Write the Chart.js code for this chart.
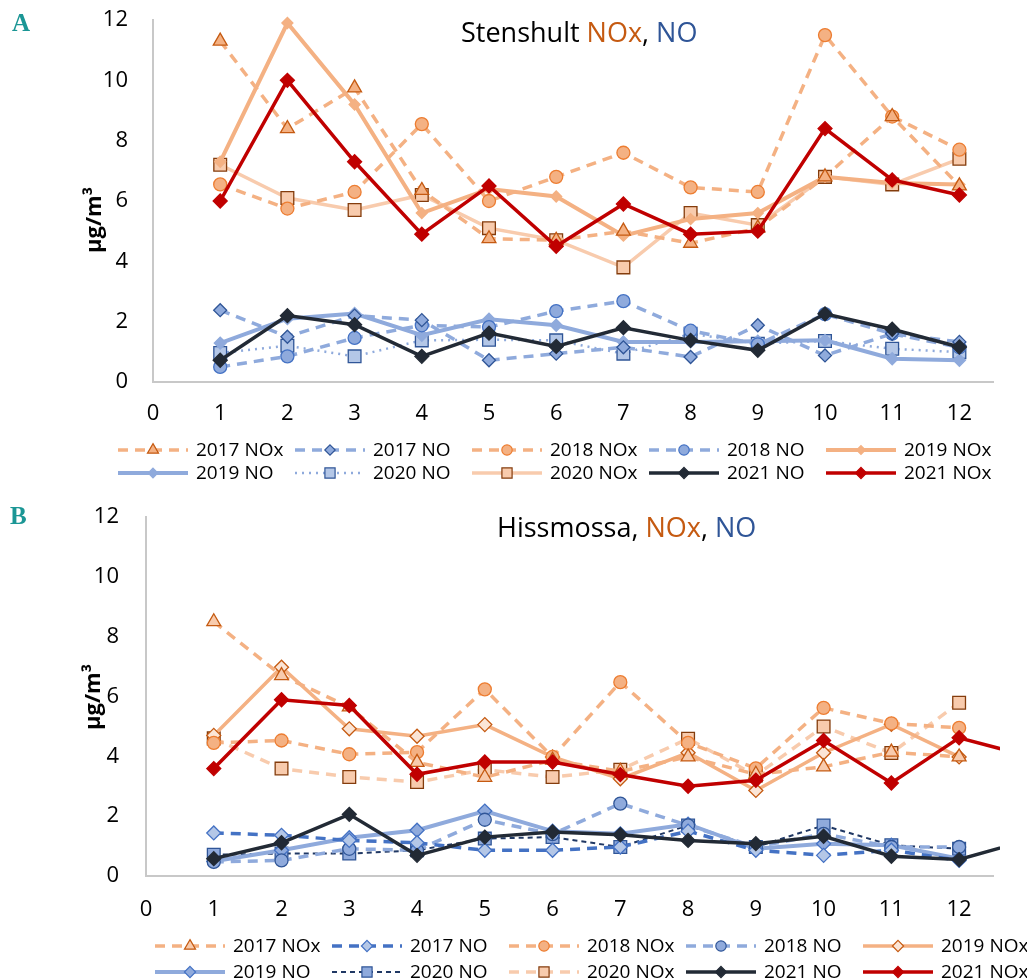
<!DOCTYPE html>
<html>
<head>
<meta charset="utf-8">
<script src="https://cdn.jsdelivr.net/npm/chart.js@4.4.1/dist/chart.umd.min.js"></script>
<style>
  body { margin: 0; background: #fff; font-family: 'Open Sans', sans-serif; }
  #wrap { position: relative; width: 1027px; height: 980px; overflow: hidden; }
  canvas { position: absolute; left: 0; }
  .lbl { position: absolute; font-family: 'Liberation Serif', 'DejaVu Serif', serif; font-weight: bold; font-size: 25px; color: #1b9695; line-height: 1; }
  .ttl { position: absolute; font-size: 27px; color: #000; line-height: 1; transform: translateY(-50%); white-space: nowrap; }
  .ytl { position: absolute; font-size: 22px; font-weight: bold; color: #000; transform: translate(-50%, -50%) rotate(-90deg); white-space: nowrap; }
  .nox { color: #c55a11; }
  .no { color: #2f5597; }
</style>
</head>
<body>
<div id="wrap">
  <canvas id="chartA" width="1027" height="490" style="top:0"></canvas>
  <canvas id="chartB" width="1027" height="490" style="top:490px"></canvas>
  <div class="lbl" style="left:12px; top:10px">A</div>
  <div class="lbl" style="left:10px; top:503px">B</div>
  <div class="ttl" style="left:461px; top:31px">Stenshult <span class="nox">NOx</span>, <span class="no">NO</span></div>
  <div class="ttl" style="left:497px; top:526px">Hissmossa, <span class="nox">NOx</span>, <span class="no">NO</span></div>
  <div class="ytl" style="left:92px; top:220px">µg/m³</div>
  <div class="ytl" style="left:91px; top:697px">µg/m³</div>
</div>
<script>
// months on the x axis
const months = [1, 2, 3, 4, 5, 6, 7, 8, 9, 10, 11, 12];
const monthsB21 = [1, 2, 3, 4, 5, 6, 7, 8, 9, 10, 11, 12, 13]; // 2021 lines in B run past the axis end
const labels = ["2017 NOx", "2017 NO", "2018 NOx", "2018 NO", "2019 NOx", "2019 NO", "2020 NO", "2020 NOx", "2021 NO", "2021 NOx"];

// Stenshult
const stNOx2017 = [11.3, 8.4, 9.75, 6.35, 4.75, 4.7, 5.0, 4.6, 5.1, 6.8, 8.8, 6.5];
const stNO2017  = [2.38, 1.5, 2.2, 2.05, 0.72, 0.94, 1.15, 0.83, 1.88, 0.88, 1.6, 1.33];
const stNOx2018 = [6.55, 5.75, 6.3, 8.55, 6.0, 6.8, 7.6, 6.45, 6.3, 11.5, 8.8, 7.7];
const stNO2018  = [0.5, 0.85, 1.46, 1.88, 1.82, 2.35, 2.68, 1.7, 1.25, 2.25, 1.6, 1.15];
const stNOx2019 = [7.3, 11.9, 9.2, 5.6, 6.4, 6.15, 4.85, 5.4, 5.6, 6.8, 6.6, 6.55];
const stNO2019  = [1.29, 2.1, 2.27, 1.55, 2.08, 1.88, 1.33, 1.33, 1.35, 1.38, 0.77, 0.72];
const stNO2020  = [0.96, 1.2, 0.85, 1.38, 1.4, 1.38, 0.94, 1.6, 1.27, 1.36, 1.1, 0.99];
const stNOx2020 = [7.2, 6.1, 5.7, 6.2, 5.1, 4.7, 3.8, 5.6, 5.2, 6.8, 6.55, 7.4];
const stNO2021  = [0.72, 2.2, 1.9, 0.85, 1.62, 1.18, 1.8, 1.38, 1.05, 2.26, 1.75, 1.16];
const stNOx2021 = [6.0, 10.0, 7.3, 4.9, 6.5, 4.5, 5.9, 4.9, 5.0, 8.4, 6.7, 6.2];

// Hissmossa
const hiNOx2017 = [8.5, 6.7, 5.65, 3.8, 3.3, 3.87, 3.5, 3.98, 3.4, 3.65, 4.14, 3.98];
const hiNO2017  = [1.44, 1.36, 1.19, 1.11, 0.86, 0.86, 0.97, 1.5, 0.86, 0.69, 0.86, 0.52];
const hiNOx2018 = [4.45, 4.53, 4.07, 4.14, 6.24, 3.98, 6.48, 4.45, 3.6, 5.62, 5.1, 4.95];
const hiNO2018  = [0.47, 0.52, 0.91, 0.86, 1.88, 1.4, 2.42, 1.69, 0.97, 1.41, 0.97, 0.97];
const hiNOx2019 = [4.7, 6.98, 4.92, 4.67, 5.06, 3.98, 3.25, 4.12, 2.86, 4.12, 5.07, 3.98];
const hiNO2019  = [0.49, 0.86, 1.28, 1.53, 2.17, 1.5, 1.41, 1.73, 0.91, 1.08, 1.03, 0.58];
const hiNO2020  = [0.71, 0.75, 0.75, 0.86, 1.25, 1.3, 0.97, 1.69, 0.97, 1.69, 1.03, 0.91];
const hiNOx2020 = [4.6, 3.59, 3.31, 3.14, 3.55, 3.31, 3.55, 4.59, 3.36, 5.0, 4.11, 5.79];
const hiNO2021  = [0.58, 1.11, 2.06, 0.69, 1.3, 1.47, 1.38, 1.19, 1.08, 1.33, 0.66, 0.55, 1.19];
const hiNOx2021 = [3.59, 5.89, 5.7, 3.4, 3.81, 3.81, 3.39, 3.0, 3.2, 4.53, 3.11, 4.62, 4.02];

const FONT = "'Open Sans', sans-serif";
const DASH = [10, 7];

function pts(xs, ys) {
  return ys.map((v, i) => ({x: xs[i], y: v}));
}

// one line series; st holds the look
function ds(label, xs, ys, st) {
  return {
    label: label,
    data: pts(xs, ys),
    borderColor: st.line,
    borderWidth: st.w || 3.5,
    borderDash: st.dash || [],
    pointStyle: st.shape,
    pointRadius: st.r || 6.5,
    pointBackgroundColor: st.fill,
    pointBorderColor: st.edge || st.fill,
    pointBorderWidth: 1.3,
    order: st.order == null ? 5 : st.order,
    tension: 0
  };
}

function drawMarker(ctx, shape, x, y, r, fill, edge, lw) {
  ctx.beginPath();
  if (shape === 'circle') {
    ctx.arc(x, y, r, 0, Math.PI * 2);
  } else if (shape === 'rect') {
    const s = r * Math.SQRT1_2;
    ctx.rect(x - s, y - s, 2 * s, 2 * s);
  } else if (shape === 'rectRot') {
    ctx.moveTo(x, y - r); ctx.lineTo(x + r, y); ctx.lineTo(x, y + r); ctx.lineTo(x - r, y);
    ctx.closePath();
  } else if (shape === 'triangle') {
    for (let k = 0; k < 3; k++) {
      const a = k * 2 * Math.PI / 3;
      const px = x + Math.sin(a) * r, py = y - Math.cos(a) * r;
      if (k === 0) ctx.moveTo(px, py); else ctx.lineTo(px, py);
    }
    ctx.closePath();
  }
  ctx.fillStyle = fill; ctx.fill();
  ctx.lineWidth = lw; ctx.strokeStyle = edge; ctx.stroke();
}

// legend laid out as a 5 x 2 grid like the original
const gridLegend = {
  id: 'gridLegend',
  afterDraw(chart, args, opts) {
    const ctx = chart.ctx;
    ctx.save();
    chart.data.datasets.forEach((d, i) => {
      const x = opts.x + (i % 5) * opts.colW;
      const y = opts.rows[Math.floor(i / 5)];
      ctx.strokeStyle = d.borderColor;
      ctx.lineWidth = d.borderWidth;
      ctx.setLineDash(d.borderDash);
      ctx.beginPath(); ctx.moveTo(x, y); ctx.lineTo(x + 70, y); ctx.stroke();
      ctx.setLineDash([]);
      drawMarker(ctx, d.pointStyle, x + 35, y, d.pointRadius * 0.8, d.pointBackgroundColor, d.pointBorderColor, 1.2);
      ctx.fillStyle = '#000';
      ctx.font = '19px ' + FONT;
      ctx.textBaseline = 'middle';
      ctx.fillText(d.label, x + 78, y + 1);
    });
    ctx.restore();
  }
};

function makeOptions(o) {
  return {
    responsive: false,
    animation: false,
    layout: {padding: {top: o.top, right: 34, bottom: o.bottom, left: 0}},
    plugins: {
      legend: {display: false},
      tooltip: {enabled: false},
      gridLegend: o.legend
    },
    scales: {
      x: {
        type: 'linear', min: 0, max: 12.5,
        ticks: {stepSize: 1, includeBounds: false, padding: o.xpad, color: '#000', font: {family: FONT, size: 22}},
        grid: {display: false, drawTicks: false},
        border: {color: '#c8c8c8', width: 2},
        afterFit: s => { s.height = o.xh; }
      },
      y: {
        min: 0, max: 12,
        ticks: {stepSize: 2, padding: o.ypad, color: '#000', font: {family: FONT, size: 22}},
        grid: {display: false, drawTicks: false},
        border: {color: '#c8c8c8', width: 2},
        // fixed width, and keep the tick padding from pushing the plot down
        afterFit: s => { s.width = o.yw; s.paddingTop = 0; s.paddingBottom = 0; }
      }
    }
  };
}

const orL = '#f4b183', orP = '#f8cbad', orD = '#c55a11', orM = '#ed7d31', brn = '#843c0c';
const blL = '#8faadc', blP = '#b4c7e7', blM = '#4472c4', blD = '#2f5597', navy = '#203864';
const dark = '#222a35', red = '#c00000';

const setA = [
  ds(labels[0], months, stNOx2017, {line: orL, dash: DASH, shape: 'triangle', r: 8, fill: orL, edge: orD}),
  ds(labels[1], months, stNO2017, {line: blL, dash: DASH, shape: 'rectRot', r: 6.5, fill: blL, edge: blD}),
  ds(labels[2], months, stNOx2018, {line: orL, dash: DASH, shape: 'circle', r: 6.5, fill: orL, edge: orM}),
  ds(labels[3], months, stNO2018, {line: blL, dash: DASH, shape: 'circle', r: 6.5, fill: blL, edge: blM}),
  ds(labels[4], months, stNOx2019, {line: orL, w: 4, shape: 'rectRot', r: 5.5, fill: orL}),
  ds(labels[5], months, stNO2019, {line: blL, w: 4, shape: 'rectRot', r: 6, fill: blL}),
  ds(labels[6], months, stNO2020, {line: blL, w: 2.5, dash: [2, 5], shape: 'rect', r: 9, fill: blP, edge: blD}),
  ds(labels[7], months, stNOx2020, {line: orP, w: 3.5, shape: 'rect', r: 9, fill: orP, edge: brn}),
  ds(labels[8], months, stNO2021, {line: dark, w: 3.5, shape: 'rectRot', r: 7, fill: dark, order: 1}),
  ds(labels[9], months, stNOx2021, {line: red, w: 3.5, shape: 'rectRot', r: 7, fill: red, order: 0})
];
setA.forEach(d => { d.clip = 10; });

const setB = [
  ds(labels[0], months, hiNOx2017, {line: orL, dash: DASH, shape: 'triangle', r: 8, fill: orP, edge: orD}),
  ds(labels[1], months, hiNO2017, {line: blM, dash: DASH, shape: 'rectRot', r: 7, fill: blP, edge: blM}),
  ds(labels[2], months, hiNOx2018, {line: orL, dash: DASH, shape: 'circle', r: 6.5, fill: orL, edge: orM}),
  ds(labels[3], months, hiNO2018, {line: blL, dash: DASH, shape: 'circle', r: 6.5, fill: blL, edge: blD}),
  ds(labels[4], months, hiNOx2019, {line: orL, w: 3.5, shape: 'rectRot', r: 7, fill: '#fbe5d6', edge: orD}),
  ds(labels[5], months, hiNO2019, {line: blL, w: 4, shape: 'rectRot', r: 7, fill: blL, edge: blM}),
  ds(labels[6], months, hiNO2020, {line: navy, w: 2, dash: [5, 4], shape: 'rect', r: 9, fill: blL, edge: blD}),
  ds(labels[7], months, hiNOx2020, {line: orP, dash: DASH, shape: 'rect', r: 9, fill: orP, edge: brn}),
  ds(labels[8], monthsB21, hiNO2021, {line: dark, w: 3.5, shape: 'rectRot', r: 7, fill: dark, order: 1}),
  ds(labels[9], monthsB21, hiNOx2021, {line: red, w: 3.5, shape: 'rectRot', r: 7, fill: red, order: 0})
];
setB.forEach(d => { d.clip = {left: 10, top: 10, right: 7, bottom: 10}; });

new Chart(document.getElementById('chartA'), {
  type: 'line',
  data: {datasets: setA},
  options: makeOptions({top: 20, bottom: 60, xh: 48, xpad: 19, ypad: 25, yw: 153,
    legend: {x: 118, colW: 177, rows: [450, 473]}}),
  plugins: [gridLegend]
});

new Chart(document.getElementById('chartB'), {
  type: 'line',
  data: {datasets: setB},
  options: makeOptions({top: 27, bottom: 54, xh: 50, xpad: 21, ypad: 27, yw: 146,
    legend: {x: 155, colW: 177, rows: [456, 482]}}),
  plugins: [gridLegend]
});
</script>
</body>
</html>
